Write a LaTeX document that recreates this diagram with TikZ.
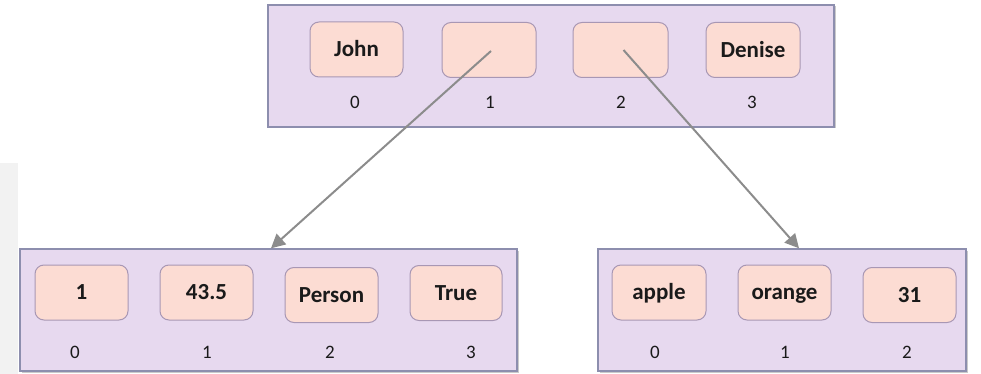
\documentclass[tikz,border=0pt]{standalone}
\usepackage{fontspec}
\setmainfont{Carlito}
\usetikzlibrary{arrows.meta,shadows,calc}

\definecolor{listfill}{HTML}{E7D9EF}
\definecolor{listedge}{HTML}{8D8EAE}
\definecolor{cellfill}{HTML}{FCDCD3}
\definecolor{celledge}{HTML}{A897B4}
\definecolor{refline}{HTML}{8C8C8C}
\definecolor{sidestrip}{HTML}{F2F2F2}
\definecolor{ink}{HTML}{1A1A1A}

\tikzset{
  listbox/.style={draw=listedge, line width=1.4pt, fill=listfill,
    minimum height=122pt, inner sep=0pt,
    drop shadow={shadow xshift=1.5pt, shadow yshift=-1.5pt, opacity=0.35, fill=black!60}},
  cell/.style={draw=celledge, line width=1pt, fill=cellfill, rounded corners=9pt,
    minimum width=93pt, minimum height=55pt, inner sep=0pt, text=ink,
    text height=14.8pt, text depth=0pt,
    font=\fontsize{23}{25}\selectfont\bfseries},
  idx/.style={inner sep=0pt, text=ink, text height=12pt, text depth=0pt,
    font=\fontsize{19}{21}\selectfont},
  ref/.style={draw=refline, line width=2pt,
    -{Triangle[length=14pt,width=14pt]}}
}

\begin{document}
\begin{tikzpicture}[x=1pt,y=-1pt]
  \useasboundingbox (0,0) rectangle (981,374);
  \fill[sidestrip] (0,163) rectangle (18,374);

  % outer list containers
  \node[listbox, minimum width=566pt] (top) at (551,66) {};
  \node[listbox, minimum width=497pt] (left) at (268.5,310) {};
  \node[listbox, minimum width=368pt] (right) at (782,310) {};

  % top-level list
  \node[cell] (t0) at (356.5,49.5) {John};
  \node[cell, minimum width=94pt] (t1) at (489,50) {};
  \node[cell, minimum width=95pt] (t2) at (620.5,50) {};
  \node[cell, minimum width=94pt] (t3) at (753,50) {Denise};
  \node[idx] (ti0) at (355,103) {0};
  \node[idx] (ti1) at (490,103) {1};
  \node[idx] (ti2) at (621,103) {2};
  \node[idx] (ti3) at (752,103) {3};

  % nested list on the left
  \node[cell] (l0) at (81.5,292.5) {1};
  \node[cell] (l1) at (206.5,292.5) {43.5};
  \node[cell] (l2) at (331.5,295) {Person};
  \node[cell, minimum width=92pt] (l3) at (456,293) {True};
  \node[idx] (li0) at (75,352) {0};
  \node[idx] (li1) at (207,352) {1};
  \node[idx] (li2) at (330,352) {2};
  \node[idx] (li3) at (471,352) {3};

  % nested list on the right
  \node[cell, minimum width=94pt] (r0) at (659,292.5) {apple};
  \node[cell] (r1) at (784.5,292.5) {orange};
  \node[cell] (r2) at (909.5,295) {31};
  \node[idx] (ri0) at (655,352) {0};
  \node[idx] (ri1) at (785,352) {1};
  \node[idx] (ri2) at (907,352) {2};

  % references from the top list into the nested lists
  \coordinate (lin) at ($(left.north)+(2.5,0)$);
  \coordinate (rin) at ($(right.north)+(17,0)$);
  \draw[ref] ($(t1.center)+(2,1)$) -- (lin);
  \draw[ref] ($(t2.center)+(3,0)$) -- (rin);
\end{tikzpicture}
\end{document}
